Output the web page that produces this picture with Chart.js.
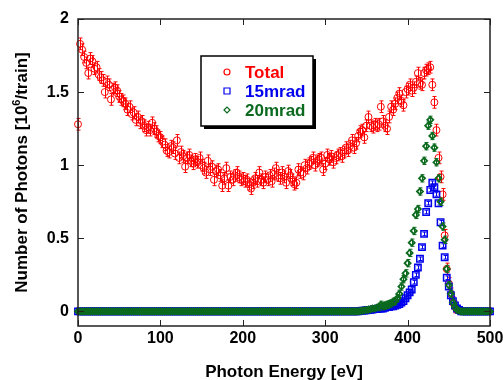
<!DOCTYPE html>
<html>
<head>
<meta charset="utf-8">
<script src="https://cdn.jsdelivr.net/npm/chart.js@4.4.0/dist/chart.umd.min.js"></script>
<style>
  body { margin: 0; background: #fff; }
</style>
</head>
<body>
<canvas id="chart" width="503" height="380"></canvas>
<script>
// photon energy bins [eV]
const energies = [
  0, 2.5, 5, 7.5, 10, 12.5, 15, 17.5, 20, 22.5, 25, 27.5, 30, 32.5, 35, 37.5, 40, 42.5, 45, 47.5,
  50, 52.5, 55, 57.5, 60, 62.5, 65, 67.5, 70, 72.5, 75, 77.5, 80, 82.5, 85, 87.5, 90, 92.5, 95, 97.5,
  100, 102.5, 105, 107.5, 110, 112.5, 115, 117.5, 120, 122.5, 125, 127.5, 130, 132.5, 135, 137.5, 140, 142.5, 145, 147.5,
  150, 152.5, 155, 157.5, 160, 162.5, 165, 167.5, 170, 172.5, 175, 177.5, 180, 182.5, 185, 187.5, 190, 192.5, 195, 197.5,
  200, 202.5, 205, 207.5, 210, 212.5, 215, 217.5, 220, 222.5, 225, 227.5, 230, 232.5, 235, 237.5, 240, 242.5, 245, 247.5,
  250, 252.5, 255, 257.5, 260, 262.5, 265, 267.5, 270, 272.5, 275, 277.5, 280, 282.5, 285, 287.5, 290, 292.5, 295, 297.5,
  300, 302.5, 305, 307.5, 310, 312.5, 315, 317.5, 320, 322.5, 325, 327.5, 330, 332.5, 335, 337.5, 340, 342.5, 345, 347.5,
  350, 352.5, 355, 357.5, 360, 362.5, 365, 367.5, 370, 372.5, 375, 377.5, 380, 382.5, 385, 387.5, 390, 392.5, 395, 397.5,
  400, 402.5, 405, 407.5, 410, 412.5, 415, 417.5, 420, 422.5, 425, 427.5, 430, 432.5, 435, 437.5, 440, 442.5, 445, 447.5,
  450, 452.5, 455, 457.5, 460, 462.5, 465, 467.5, 470, 472.5, 475, 477.5, 480, 482.5, 485, 487.5, 490, 492.5, 495, 497.5,
  500
];

// number of photons [10^6/train]
const total = [
  1.28, 1.83, 1.79, 1.74, 1.70, 1.63, 1.73, 1.71, 1.66, 1.67, 1.62, 1.60, 1.58, 1.50, 1.57, 1.55, 1.45, 1.52, 1.53, 1.51,
  1.47, 1.45, 1.44, 1.42, 1.38, 1.40, 1.35, 1.36, 1.31, 1.33, 1.29, 1.30, 1.27, 1.24, 1.26, 1.24, 1.29, 1.25, 1.23, 1.20,
  1.19, 1.16, 1.14, 1.10, 1.09, 1.13, 1.12, 1.08, 1.17, 1.05, 1.09, 1.06, 0.99, 1.05, 1.07, 1.03, 1.01, 1.04, 1.02, 1.05,
  1.00, 0.98, 0.95, 1.03, 0.97, 0.99, 0.90, 0.96, 0.97, 0.93, 0.86, 0.91, 0.98, 0.86, 0.92, 0.90, 0.93, 0.95, 0.92, 0.90,
  0.91, 0.89, 0.90, 0.87, 0.84, 0.88, 0.91, 0.89, 0.95, 0.90, 0.88, 0.92, 0.90, 0.93, 0.89, 0.94, 0.98, 0.93, 0.91, 0.95,
  0.92, 0.88, 0.96, 0.93, 0.90, 0.87, 0.88, 0.97, 0.95, 0.94, 1.00, 0.98, 1.01, 1.02, 1.05, 1.00, 1.03, 1.04, 1.05, 0.97,
  1.01, 1.07, 1.04, 1.06, 1.02, 1.05, 1.07, 1.08, 1.06, 1.09, 1.12, 1.10, 1.13, 1.17, 1.12, 1.15, 1.20, 1.23, 1.24, 1.19,
  1.27, 1.33, 1.27, 1.26, 1.28, 1.27, 1.28, 1.40, 1.30, 1.27, 1.25, 1.33, 1.40, 1.38, 1.42, 1.46, 1.49, 1.44, 1.41, 1.50,
  1.52, 1.55, 1.51, 1.53, 1.57, 1.63, 1.56, 1.55, 1.63, 1.65, 1.66, 1.67, 1.55, 1.43, 1.24, 1.05, 0.92, 0.80, 0.52, 0.29,
  0.19, 0.12, 0.06, 0.03, 0.01, null, null, null, null, null, null, null, null, null, null, null, null, null, null, null,
  null
];
const mrad15 = [
  0, 0, 0, 0, 0, 0, 0, 0, 0, 0, 0, 0, 0, 0, 0, 0, 0, 0, 0, 0,
  0, 0, 0, 0, 0, 0, 0, 0, 0, 0, 0, 0, 0, 0, 0, 0, 0, 0, 0, 0,
  0, 0, 0, 0, 0, 0, 0, 0, 0, 0, 0, 0, 0, 0, 0, 0, 0, 0, 0, 0,
  0, 0, 0, 0, 0, 0, 0, 0, 0, 0, 0, 0, 0, 0, 0, 0, 0, 0, 0, 0,
  0, 0, 0, 0, 0, 0, 0, 0, 0, 0, 0, 0, 0, 0, 0, 0, 0, 0, 0, 0,
  0, 0, 0, 0, 0, 0, 0, 0, 0, 0, 0, 0, 0, 0, 0, 0, 0, 0, 0, 0,
  0, 0, 0, 0, 0, 0, 0, 0, 0, 0, 0, 0, 0, 0, 0, 0, 0, 0.003, 0.005, 0.005,
  0.008, 0.01, 0.01, 0.012, 0.015, 0.015, 0.02, 0.02, 0.02, 0.025, 0.03, 0.03, 0.035, 0.035, 0.04, 0.045, 0.05, 0.06, 0.07, 0.09,
  0.11, 0.13, 0.15, 0.20, 0.25, 0.30, 0.36, 0.44, 0.53, 0.68, 0.74, 0.83, 0.88, 0.85, 0.80, 0.74, 0.61, 0.45, 0.37, 0.23,
  0.17, 0.11, 0.07, 0.04, 0.02, 0.01, 0, 0, 0, 0, 0, 0, 0, 0, 0, 0, 0, 0, 0, 0,
  0
];
const mrad20 = [
  0, 0, 0, 0, 0, 0, 0, 0, 0, 0, 0, 0, 0, 0, 0, 0, 0, 0, 0, 0,
  0, 0, 0, 0, 0, 0, 0, 0, 0, 0, 0, 0, 0, 0, 0, 0, 0, 0, 0, 0,
  0, 0, 0, 0, 0, 0, 0, 0, 0, 0, 0, 0, 0, 0, 0, 0, 0, 0, 0, 0,
  0, 0, 0, 0, 0, 0, 0, 0, 0, 0, 0, 0, 0, 0, 0, 0, 0, 0, 0, 0,
  0, 0, 0, 0, 0, 0, 0, 0, 0, 0, 0, 0, 0, 0, 0, 0, 0, 0, 0, 0,
  0, 0, 0, 0, 0, 0, 0, 0, 0, 0, 0, 0, 0, 0, 0, 0, 0, 0, 0, 0,
  0, 0, 0, 0, 0, 0, 0, 0, 0, 0, 0, 0, 0, 0, 0, 0, 0, 0.003, 0.005, 0.008,
  0.01, 0.012, 0.015, 0.02, 0.02, 0.025, 0.03, 0.045, 0.035, 0.04, 0.045, 0.05, 0.055, 0.065, 0.07, 0.09, 0.12, 0.17, 0.22, 0.26,
  0.33, 0.40, 0.47, 0.55, 0.66, 0.70, 0.82, 0.91, 1.03, 1.13, 1.27, 1.31, 1.20, 1.12, 1.02, 0.91, 0.75, 0.58, 0.49, 0.29,
  0.18, 0.12, 0.06, 0.03, 0.01, 0.005, 0, 0, 0, 0, 0, 0, 0, 0, 0, 0, 0, 0, 0, 0,
  0
];
// half-length of the error bars, same units
const errTotal = 0.04;
const err15 = 0.012;
const err20 = 0.025;

const xTicks = [0, 100, 200, 300, 400, 500];
const yTicks = [0, 0.5, 1, 1.5, 2];
const seriesNames = ['Total', '15mrad', '20mrad'];
const xTitle = 'Photon Energy [eV]';

const FONT = '"Liberation Sans", Arial, Helvetica, sans-serif';
const RED = '#ff0000', BLUE = '#0000ee', GREEN = '#0b6a1e';

function points(ys) {
  return energies.map((x, i) => ({ x: x, y: ys[i] }));
}

// vertical error bars, drawn just before each dataset's markers
const errorBars = {
  id: 'errorBars',
  beforeDatasetDraw(chart, args) {
    const ds = chart.data.datasets[args.index];
    const ys = chart.scales.y, ctx = chart.ctx;
    ctx.save();
    ctx.strokeStyle = ds.borderColor;
    ctx.lineWidth = 1;
    args.meta.data.forEach((pt, i) => {
      const v = ds.data[i].y;
      if (v == null || v < 0.03) return;
      const x = Math.round(pt.x) + 0.5;
      const y1 = ys.getPixelForValue(v + ds.errBar);
      const y2 = ys.getPixelForValue(v - ds.errBar);
      ctx.beginPath();
      ctx.moveTo(x, y1); ctx.lineTo(x, y2);
      ctx.moveTo(x - 2, y1); ctx.lineTo(x + 2, y1);
      ctx.moveTo(x - 2, y2); ctx.lineTo(x + 2, y2);
      ctx.stroke();
    });
    ctx.restore();
  }
};

// box round the plot, with inward ticks on all four sides
const frame = {
  id: 'frame',
  afterDraw(chart) {
    const { ctx, chartArea: a } = chart;
    const xs = chart.scales.x, ys = chart.scales.y;
    ctx.save();
    ctx.strokeStyle = '#222';
    ctx.lineWidth = 1.5;
    ctx.strokeRect(a.left, a.top, a.right - a.left, a.bottom - a.top);
    ctx.lineWidth = 1;
    ctx.beginPath();
    xTicks.forEach(v => {
      const x = Math.round(xs.getPixelForValue(v)) + 0.5;
      ctx.moveTo(x, a.bottom); ctx.lineTo(x, a.bottom - 6);
      ctx.moveTo(x, a.top); ctx.lineTo(x, a.top + 6);
    });
    yTicks.forEach(v => {
      const y = Math.round(ys.getPixelForValue(v)) + 0.5;
      ctx.moveTo(a.left, y); ctx.lineTo(a.left + 6, y);
      ctx.moveTo(a.right, y); ctx.lineTo(a.right - 6, y);
    });
    ctx.stroke();
    ctx.restore();
  }
};

// axis titles (y title has a real superscript)
const titles = {
  id: 'titles',
  afterDraw(chart) {
    const { ctx, chartArea: a } = chart;
    ctx.save();
    ctx.fillStyle = '#000';
    ctx.textBaseline = 'alphabetic';
    ctx.font = 'bold 17px ' + FONT;
    ctx.textAlign = 'center';
    ctx.fillText(xTitle, (a.left + a.right) / 2, 377);

    const pre = 'Number of Photons [10', sup = '6', post = '/train]';
    ctx.textAlign = 'left';
    const w1 = ctx.measureText(pre).width, w3 = ctx.measureText(post).width;
    ctx.font = 'bold 11px ' + FONT;
    const w2 = ctx.measureText(sup).width;
    const W = w1 + w2 + w3;
    ctx.translate(27, (a.top + a.bottom) / 2);
    ctx.rotate(-Math.PI / 2);
    ctx.font = 'bold 17px ' + FONT;
    ctx.fillText(pre, -W / 2, 0);
    ctx.font = 'bold 11px ' + FONT;
    ctx.fillText(sup, -W / 2 + w1, -7);
    ctx.font = 'bold 17px ' + FONT;
    ctx.fillText(post, -W / 2 + w1 + w2, 0);
    ctx.restore();
  }
};

// boxed legend with drop shadow
const legendBox = {
  id: 'legendBox',
  afterDraw(chart) {
    const ctx = chart.ctx;
    const L = 201, T = 56, W = 112, H = 70;
    ctx.save();
    ctx.fillStyle = '#000';
    ctx.fillRect(L + 3, T + 3, W, H);
    ctx.fillStyle = '#fff';
    ctx.fillRect(L, T, W, H);
    ctx.strokeStyle = '#000';
    ctx.lineWidth = 1.5;
    ctx.strokeRect(L, T, W, H);
    const colors = [RED, BLUE, GREEN];
    seriesNames.forEach((name, i) => {
      const y = 72 + i * 19, x = 227;
      ctx.strokeStyle = colors[i];
      ctx.lineWidth = 1.2;
      ctx.beginPath();
      if (i === 0) ctx.arc(x, y, 3, 0, Math.PI * 2);
      else if (i === 1) ctx.rect(x - 3, y - 3, 6, 6);
      else { ctx.moveTo(x - 3, y); ctx.lineTo(x, y - 3); ctx.lineTo(x + 3, y); ctx.lineTo(x, y + 3); ctx.closePath(); }
      ctx.stroke();
      ctx.fillStyle = colors[i];
      ctx.font = 'bold 17px ' + FONT;
      ctx.textAlign = 'left';
      ctx.textBaseline = 'alphabetic';
      ctx.fillText(name, 245, y + 6);
    });
    ctx.restore();
  }
};

const tickFont = { family: FONT, size: 16, weight: 'bold' };

new Chart(document.getElementById('chart'), {
  type: 'scatter',
  data: {
    datasets: [
      { label: seriesNames[0], data: points(total), pointStyle: 'circle', pointRadius: 3.5,
        borderColor: RED, backgroundColor: 'rgba(0,0,0,0)', borderWidth: 1, errBar: errTotal, order: 3, clip: false },
      { label: seriesNames[1], data: points(mrad15), pointStyle: 'rect', pointRadius: 4.5,
        borderColor: BLUE, backgroundColor: 'rgba(0,0,0,0)', borderWidth: 1.5, errBar: err15, order: 2, clip: false },
      { label: seriesNames[2], data: points(mrad20), pointStyle: 'rectRot', pointRadius: 3,
        borderColor: GREEN, backgroundColor: 'rgba(0,0,0,0)', borderWidth: 1.8, errBar: err20, order: 1, clip: false }
    ]
  },
  options: {
    responsive: false,
    animation: false,
    devicePixelRatio: 1,
    layout: { padding: { top: 19, right: 13, left: 0, bottom: 0 } },
    plugins: { legend: { display: false }, tooltip: { enabled: false } },
    scales: {
      x: {
        type: 'linear', min: 0, max: 500,
        afterBuildTicks: s => { s.ticks = xTicks.map(v => ({ value: v })); },
        afterFit: s => { s.height = 54; s.paddingLeft = 0; s.paddingRight = 0; },
        grid: { display: false, drawTicks: false },
        border: { display: false },
        ticks: { font: tickFont, color: '#000', padding: 3, maxRotation: 0, autoSkip: false }
      },
      y: {
        type: 'linear', min: -0.1, max: 2,
        afterBuildTicks: s => { s.ticks = yTicks.map(v => ({ value: v })); },
        afterFit: s => { s.width = 78; s.paddingTop = 0; s.paddingBottom = 0; },
        grid: { display: false, drawTicks: false },
        border: { display: false },
        ticks: { font: tickFont, color: '#000', padding: 9, autoSkip: false, callback: v => String(v) }
      }
    }
  },
  plugins: [errorBars, frame, titles, legendBox]
});
</script>
</body>
</html>
